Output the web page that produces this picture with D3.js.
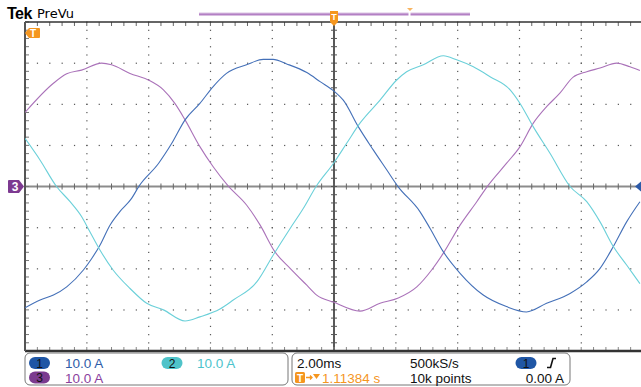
<!DOCTYPE html>
<html>
<head>
<meta charset="utf-8">
<script src="https://cdn.jsdelivr.net/npm/d3@7"></script>
<style>
  body { margin: 0; background: #fff; }
  svg { display: block; font-family: "Liberation Sans", Arial, sans-serif; }
</style>
</head>
<body>
<div id="scope"></div>
<script>
// time in ms relative to trigger (centre of screen), current in A
const ch1Time = [-10.0, -9.51, -9.08, -8.65, -8.11, -7.84, -7.57, -7.25, -6.93, -6.55, -6.31, -5.68, -5.25, -4.82, -4.34, -3.91, -3.48, -2.83, -2.29, -1.97, -1.53, -0.88, -0.45, 0.03, 0.30, 0.79, 1.27, 1.71, 2.06, 2.78, 3.11, 3.54, 4.08, 4.83, 5.58, 6.23, 6.88, 7.64, 8.18, 8.61, 9.04, 9.47, 9.90];
const ch1Amps = [-29.5, -27.6, -26.4, -24.4, -20.3, -17.5, -14.2, -9.4, -6.1, -2.9, 0.1, 5.6, 10.5, 16.2, 20.2, 24.3, 27.5, 29.6, 30.9, 30.9, 29.8, 27.7, 25.5, 23.0, 21.0, 14.5, 8.9, 4.0, 0.1, -6.1, -10.2, -15.9, -21.1, -26.4, -29.2, -30.5, -28.4, -26.0, -23.2, -19.9, -14.6, -8.6, -3.7];

const ch2Time = [-10.0, -9.51, -8.98, -8.54, -8.17, -7.90, -7.57, -7.15, -6.60, -6.06, -5.52, -4.82, -4.34, -3.69, -3.26, -2.50, -1.97, -1.42, -0.99, -0.58, -0.02, 0.41, 0.84, 1.49, 2.03, 2.35, 2.89, 3.54, 3.97, 4.51, 5.05, 5.70, 6.02, 6.45, 6.99, 7.64, 8.18, 8.61, 9.04, 9.47, 9.90];
const ch2Amps = [11.7, 6.4, 0.0, -3.7, -7.3, -11.0, -15.5, -20.3, -24.8, -28.4, -30.0, -32.7, -31.7, -29.8, -27.6, -23.2, -16.7, -10.2, -5.3, 0.0, 5.6, 10.5, 15.4, 21.0, 25.9, 27.9, 29.6, 31.8, 30.8, 29.1, 26.7, 23.5, 20.2, 14.5, 8.1, 0.0, -3.7, -8.6, -14.6, -19.1, -23.6];

const ch3Time = [-10.0, -9.08, -8.65, -8.17, -7.52, -7.20, -6.60, -6.01, -5.52, -5.15, -4.82, -4.34, -3.91, -3.42, -2.83, -2.39, -1.91, -1.42, -0.88, -0.56, -0.02, 0.84, 1.49, 2.08, 2.68, 3.16, 3.54, 4.08, 4.62, 4.97, 5.58, 6.02, 6.45, 6.88, 7.31, 7.74, 8.18, 8.61, 9.15, 9.58, 9.90];
const ch3Amps = [18.0, 25.1, 27.4, 28.3, 30.0, 29.6, 27.5, 25.9, 23.5, 20.2, 16.2, 9.7, 4.8, 0.1, -4.5, -9.4, -15.9, -19.9, -24.0, -26.4, -28.1, -30.3, -28.4, -27.1, -24.4, -20.3, -16.2, -9.4, -3.7, 0.1, 5.6, 9.7, 15.4, 19.4, 22.7, 26.6, 27.9, 28.8, 30.0, 29.1, 28.2];

const scaleLabels = ["10.0 A", "10.0 A", "10.0 A"];
const timebase = "2.00ms";
const sampleRate = "500kS/s";
const recordLen = "10k points";
const trigTime = "1.11384 s";
const trigLevel = "0.00 A";

const width = 641, height = 387;
const gLeft = 25, gTop = 22, gRight = 643, gBottom = 351;

const blue = "#4470b8", cyan = "#6bd0d9", purple = "#aa72b9", orange = "#f5961f";

const svg = d3.select("#scope").append("svg")
    .attr("width", width)
    .attr("height", height);

// scales: 10 divisions x 2 ms, 8 divisions x 10 A
let x = d3.scaleLinear().domain([-10, 10]).range([gLeft, gRight]);
let y = d3.scaleLinear().domain([-40, 40]).range([gBottom, gTop]);

let grid = svg.append("g");

// dotted graticule
for (let i = 1; i < 10; i++) {
    if (i == 5) continue;
    let gx = x(-10 + i * 2);
    for (let j = 0; j <= 40; j++) {
        grid.append("rect").attr("x", gx - 0.5).attr("y", y(-40 + j * 2) - 0.5)
            .attr("width", 1.2).attr("height", 1.2).attr("fill", "#555");
    }
}
for (let j = 1; j < 8; j++) {
    if (j == 4) continue;
    let gy = y(-40 + j * 10);
    for (let i = 0; i <= 50; i++) {
        grid.append("rect").attr("x", x(-10 + i * 0.4) - 0.5).attr("y", gy - 0.5)
            .attr("width", 1.2).attr("height", 1.2).attr("fill", "#555");
    }
}

// centre lines
grid.append("line").attr("x1", gLeft).attr("x2", gRight).attr("y1", y(0)).attr("y2", y(0))
    .attr("stroke", "#8c8c8c").attr("stroke-width", 2);
grid.append("line").attr("x1", x(0)).attr("x2", x(0)).attr("y1", gTop).attr("y2", gBottom)
    .attr("stroke", "#222").attr("stroke-width", 1.5);

// minor ticks on centre lines and borders
for (let i = 0; i <= 50; i++) {
    let tx = x(-10 + i * 0.4);
    grid.append("line").attr("x1", tx).attr("x2", tx).attr("y1", y(0) - 3).attr("y2", y(0) + 3)
        .attr("stroke", "#666").attr("stroke-width", 1);
    grid.append("line").attr("x1", tx).attr("x2", tx).attr("y1", gTop).attr("y2", gTop + 4)
        .attr("stroke", "#666").attr("stroke-width", 1);
    grid.append("line").attr("x1", tx).attr("x2", tx).attr("y1", gBottom - 4).attr("y2", gBottom)
        .attr("stroke", "#888").attr("stroke-width", 1);
}
for (let j = 0; j <= 40; j++) {
    let ty = y(-40 + j * 2);
    grid.append("line").attr("x1", x(0) - 3).attr("x2", x(0) + 3).attr("y1", ty).attr("y2", ty)
        .attr("stroke", "#555").attr("stroke-width", 1);
    grid.append("line").attr("x1", gLeft).attr("x2", gLeft + 4).attr("y1", ty).attr("y2", ty)
        .attr("stroke", "#777").attr("stroke-width", 1);
}

// borders
grid.append("line").attr("x1", gLeft).attr("x2", gRight).attr("y1", gTop).attr("y2", gTop)
    .attr("stroke", "#333").attr("stroke-width", 1.5);
grid.append("line").attr("x1", gLeft).attr("x2", gRight).attr("y1", gBottom).attr("y2", gBottom)
    .attr("stroke", "#333").attr("stroke-width", 2.5);
grid.append("line").attr("x1", gLeft).attr("x2", gLeft).attr("y1", gTop).attr("y2", gBottom)
    .attr("stroke", "#555").attr("stroke-width", 2);

// waveforms
let line = d3.line().x(d => x(d[0])).y(d => y(d[1])).curve(d3.curveMonotoneX);
let channels = [
    { t: ch3Time, v: ch3Amps, color: purple },
    { t: ch1Time, v: ch1Amps, color: blue },
    { t: ch2Time, v: ch2Amps, color: cyan }
];
svg.append("clipPath").attr("id", "clip").append("rect")
    .attr("x", gLeft).attr("y", gTop).attr("width", gRight - gLeft).attr("height", gBottom - gTop);
svg.append("g").attr("clip-path", "url(#clip)")
    .selectAll("path").data(channels).enter()
    .append("path")
    .attr("d", d => line(d3.zip(d.t, d.v)))
    .attr("fill", "none")
    .attr("stroke", d => d.color)
    .attr("stroke-width", 1.1);

// header
svg.append("text").attr("x", 7).attr("y", 19).attr("font-size", 16).attr("font-weight", "bold")
    .attr("letter-spacing", -0.5).text("Tek");
svg.append("text").attr("x", 37).attr("y", 18).attr("font-size", 13).attr("font-family", "DejaVu Sans")
    .text("PreVu");

// record view bar
svg.append("rect").attr("x", 199).attr("y", 13).attr("width", 271).attr("height", 2.5).attr("fill", "#b380c4");
svg.append("rect").attr("x", 199).attr("y", 12.5).attr("width", 271).attr("height", 1).attr("fill", "#dcc3e4");
svg.append("rect").attr("x", 408.5).attr("y", 11).attr("width", 2).attr("height", 6).attr("fill", "#fff");
svg.append("path").attr("d", "M407,8 L413,8 L410,11 Z").attr("fill", orange).attr("opacity", 0.7);

// trigger position marker (top centre)
svg.append("path")
    .attr("d", `M${x(0) - 4},11 L${x(0) + 4},11 L${x(0) + 4},22 L${x(0)},26 L${x(0) - 4},22 Z`)
    .attr("fill", orange);
svg.append("text").attr("x", x(0)).attr("y", 20).attr("text-anchor", "middle")
    .attr("font-size", 9).attr("font-weight", "bold").attr("fill", "#fff").text("T");

// trigger marker at left
svg.append("path").attr("d", "M25,33 L29,28 L39,28 Q40,28 40,29 L40,37 Q40,38 39,38 L29,38 Z").attr("fill", orange);
svg.append("text").attr("x", 33).attr("y", 37).attr("text-anchor", "middle")
    .attr("font-size", 10).attr("font-weight", "bold").attr("fill", "#fff").text("T");

// channel 3 ground marker
svg.append("path").attr("d", `M9,${y(0) - 6.5} L19,${y(0) - 6.5} L24,${y(0)} L19,${y(0) + 6.5} L9,${y(0) + 6.5} Q8,${y(0) + 6.5} 8,${y(0) + 5.5} L8,${y(0) - 5.5} Q8,${y(0) - 6.5} 9,${y(0) - 6.5} Z`)
    .attr("fill", "#7d3a91");
svg.append("text").attr("x", 15).attr("y", y(0) + 4.5).attr("text-anchor", "middle")
    .attr("font-size", 12).attr("font-weight", "bold").attr("fill", "#fff").text("3");

// trigger level marker at right
svg.append("path").attr("d", `M641,${y(0) - 5} L635,${y(0)} L641,${y(0) + 5} Z`).attr("fill", "#2d5aa8");

// bottom readout panels
svg.append("rect").attr("x", 25).attr("y", 353).attr("width", 263).attr("height", 32).attr("rx", 5)
    .attr("fill", "#fff").attr("stroke", "#777").attr("stroke-width", 1);
svg.append("rect").attr("x", 292).attr("y", 353).attr("width", 278).attr("height", 32).attr("rx", 5)
    .attr("fill", "#fff").attr("stroke", "#777").attr("stroke-width", 1);

function pill(cx, cy, fill, label, textFill) {
    svg.append("rect").attr("x", cx - 10.5).attr("y", cy - 6).attr("width", 21).attr("height", 12).attr("rx", 6)
        .attr("fill", fill);
    svg.append("text").attr("x", cx).attr("y", cy + 4.5).attr("text-anchor", "middle")
        .attr("font-size", 12).attr("fill", textFill).text(label);
}

pill(39.5, 363, "#1f56a5", "1", "#111");
pill(172, 363, "#4fc3c9", "2", "#111");
pill(39.5, 377.5, "#7b3a8f", "3", "#111");
svg.append("text").attr("x", 65).attr("y", 367.5).attr("font-size", 13.5).attr("fill", "#2e5ca8").text(scaleLabels[0]);
svg.append("text").attr("x", 197).attr("y", 367.5).attr("font-size", 13.5).attr("fill", "#4cc3cc").text(scaleLabels[1]);
svg.append("text").attr("x", 65).attr("y", 382.5).attr("font-size", 13.5).attr("fill", "#8b3f9e").text(scaleLabels[2]);

svg.append("text").attr("x", 297).attr("y", 367.5).attr("font-size", 13.5).attr("fill", "#111").text(timebase);
svg.append("rect").attr("x", 295).attr("y", 372).attr("width", 10).attr("height", 11).attr("rx", 1.5).attr("fill", orange);
svg.append("text").attr("x", 300).attr("y", 381.5).attr("text-anchor", "middle").attr("font-size", 10)
    .attr("font-weight", "bold").attr("fill", "#fff").text("T");
svg.append("path").attr("d", "M306,377.5 L312,377.5 M310,375.5 L312,377.5 L310,379.5").attr("stroke", orange)
    .attr("stroke-width", 1.3).attr("fill", "none");
svg.append("path").attr("d", "M313,374 L320,374 L316.5,379 Z").attr("fill", orange);
svg.append("text").attr("x", 322).attr("y", 382.5).attr("font-size", 13.5).attr("fill", orange).text(trigTime);

svg.append("text").attr("x", 410).attr("y", 367.5).attr("font-size", 13.5).attr("fill", "#111").text(sampleRate);
svg.append("text").attr("x", 410).attr("y", 382.5).attr("font-size", 13.5).attr("fill", "#111").text(recordLen);

pill(526, 363, "#1f56a5", "1", "#111");
svg.append("path").attr("d", "M547,367.5 L550.5,367.5 L553,358.5 L556,358.5").attr("stroke", "#111")
    .attr("stroke-width", 1.6).attr("fill", "none");
svg.append("text").attr("x", 564).attr("y", 382.5).attr("text-anchor", "end").attr("font-size", 13.5)
    .attr("fill", "#111").text(trigLevel);
</script>
</body>
</html>
